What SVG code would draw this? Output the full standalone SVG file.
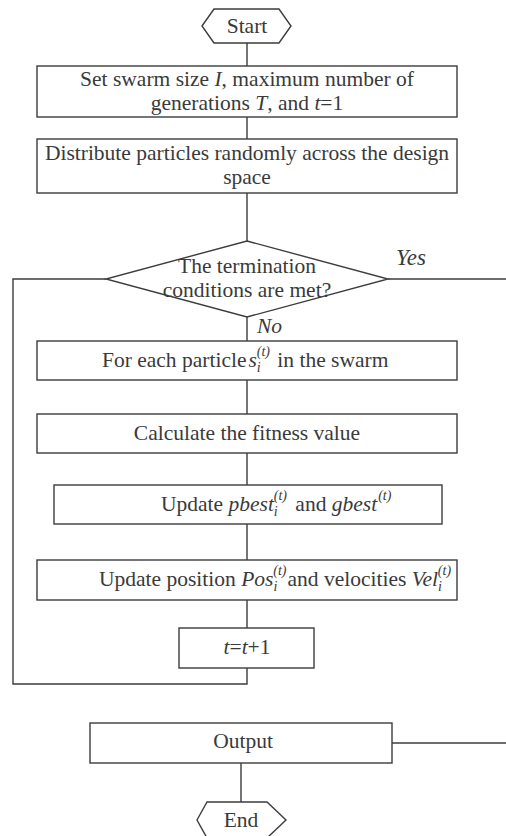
<svg xmlns="http://www.w3.org/2000/svg" width="506" height="836" viewBox="0 0 506 836">
<style>
.n{fill:#fff;stroke:#3c3c3c;stroke-width:1.4}
.c{fill:none;stroke:#3c3c3c;stroke-width:1.4}
text{font-family:"Liberation Serif","Times New Roman",serif;font-size:21.5px;fill:#3a3a3a}
.m{text-anchor:middle}
.i{font-style:italic}
.s{font-size:14px}
</style>
<rect width="506" height="836" fill="#fff"/>
<g id="connectors">
<line class="c" x1="247" y1="43" x2="247" y2="66"/>
<line class="c" x1="247" y1="117" x2="247" y2="139"/>
<line class="c" x1="247" y1="193" x2="247" y2="241"/>
<line class="c" x1="247" y1="317" x2="247" y2="341"/>
<line class="c" x1="247" y1="380" x2="247" y2="414"/>
<line class="c" x1="247" y1="453" x2="247" y2="485"/>
<line class="c" x1="247" y1="524" x2="247" y2="560"/>
<line class="c" x1="247" y1="600" x2="247" y2="628"/>
<polyline class="c" points="247,668 247,684 13,684 13,279 106,279"/>
<line class="c" x1="388" y1="279" x2="506" y2="279"/>
<line class="c" x1="392" y1="743" x2="506" y2="743"/>
<line class="c" x1="241" y1="763" x2="241" y2="802"/>
<text class="i" x="396" y="265" style="font-size:23px">Yes</text>
<text class="i" x="257" y="333">No</text>
</g>
<g id="start">
<polygon class="n" points="202,26 214,9 279,9 291,26 279,43 214,43"/>
<text class="m" x="247" y="33">Start</text>
</g>
<g id="init">
<rect class="n" x="37" y="66" width="420" height="51"/>
<text class="m" x="247" y="86">Set swarm size <tspan class="i">I</tspan>, maximum number of</text>
<text class="m" x="247" y="110">generations <tspan class="i">T</tspan>, and <tspan class="i">t</tspan>=1</text>
</g>
<g id="distribute">
<rect class="n" x="37" y="139" width="420" height="54"/>
<text class="m" x="247" y="160">Distribute particles randomly across the design</text>
<text class="m" x="247" y="184">space</text>
</g>
<g id="decision">
<polygon class="n" points="247,241 388,279 247,317 106,279"/>
<text class="m" x="247" y="273">The termination</text>
<text class="m" x="247" y="297">conditions are met?</text>
</g>
<g id="foreach">
<rect class="n" x="37" y="341" width="420" height="39"/>
<text x="102" y="367">For each particle<tspan class="i" dx="2">s</tspan><tspan class="s i" dy="5">i</tspan><tspan class="s i" dx="-4" dy="-16">(t)</tspan><tspan dx="2" dy="11"> in the swarm</tspan></text>
</g>
<g id="fitness">
<rect class="n" x="37" y="414" width="420" height="39"/>
<text class="m" x="247" y="440">Calculate the fitness value</text>
</g>
<g id="updatebest">
<rect class="n" x="54" y="485" width="388" height="39"/>
<text x="161" y="511">Update <tspan class="i">pbest</tspan><tspan class="s i" dy="5">i</tspan><tspan class="s i" dx="-4" dy="-16">(t)</tspan><tspan dx="3" dy="11"> and </tspan><tspan class="i">gbest</tspan><tspan class="s i" dx="1" dy="-11">(t)</tspan></text>
</g>
<g id="updatepos">
<rect class="n" x="37" y="560" width="420" height="40"/>
<text x="99" y="586">Update position <tspan class="i">Pos</tspan><tspan class="s i" dy="5">i</tspan><tspan class="s i" dx="-4" dy="-16">(t)</tspan><tspan dx="1" dy="11">and velocities </tspan><tspan class="i">Vel</tspan><tspan class="s i" dy="5">i</tspan><tspan class="s i" dx="-4" dy="-16">(t)</tspan></text>
</g>
<g id="increment">
<rect class="n" x="179" y="628" width="135" height="40"/>
<text class="m" x="247" y="654"><tspan class="i">t</tspan>=<tspan class="i">t</tspan>+1</text>
</g>
<g id="output">
<rect class="n" x="90" y="723" width="302" height="40"/>
<text class="m" x="243" y="748">Output</text>
</g>
<g id="end">
<polygon class="n" points="197,820 207,802 267,802 286,820 267,838 207,838"/>
<text class="m" x="241" y="827">End</text>
</g>
</svg>
